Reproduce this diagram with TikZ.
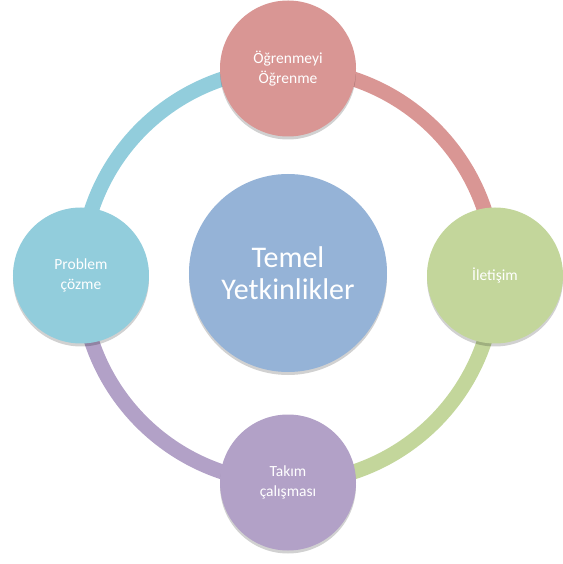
\documentclass[tikz,border=0pt]{standalone}
\usepackage{fontspec}
\setmainfont{Carlito}
\usetikzlibrary{shadows,backgrounds}
\definecolor{ogrcol}{HTML}{D99694}
\definecolor{iltcol}{HTML}{C3D69B}
\definecolor{takcol}{HTML}{B2A1C7}
\definecolor{prbcol}{HTML}{92CDDC}
\definecolor{tmlcol}{HTML}{95B3D7}
\begin{document}
\begin{tikzpicture}[x=1pt,y=1pt]
\useasboundingbox (-288,-288.5) rectangle (274,275.5);

\tikzset{vertex/.style = {shape=circle,inner sep=0pt,minimum size=136pt,text=white,align=center,
  font=\fontsize{15.5}{20}\selectfont,
  drop shadow={shadow xshift=0pt,shadow yshift=-3pt,opacity=0.18,fill=black}}}
\tikzset{edge/.style = {line width=15pt}}
% vertices
\node[vertex,fill=tmlcol,minimum size=198pt,font=\fontsize{30}{32}\selectfont] (tml) at (0,2.5) {Temel\\Yetkinlikler};
\node[vertex,fill=ogrcol] (ogr) at (0,207) {Öğrenmeyi\\Öğrenme};
\node[vertex,fill=iltcol] (ilt) at (207,0) {İletişim};
\node[vertex,fill=takcol] (tak) at (0,-207) {Takım\\çalışması};
\node[vertex,fill=prbcol] (prb) at (-207,0) {Problem\\çözme};

%edges
\begin{scope}[on background layer]
\draw[edge,ogrcol] (ogr.center) to[bend left=45] (ilt.center);
\draw[edge,iltcol] (ilt.center) to[bend left=45] (tak.center);
\draw[edge,takcol] (tak.center) to[bend left=45] (prb.center);
\draw[edge,prbcol] (prb.center) to[bend left=45] (ogr.center);
\end{scope}
\end{tikzpicture}
\end{document}
